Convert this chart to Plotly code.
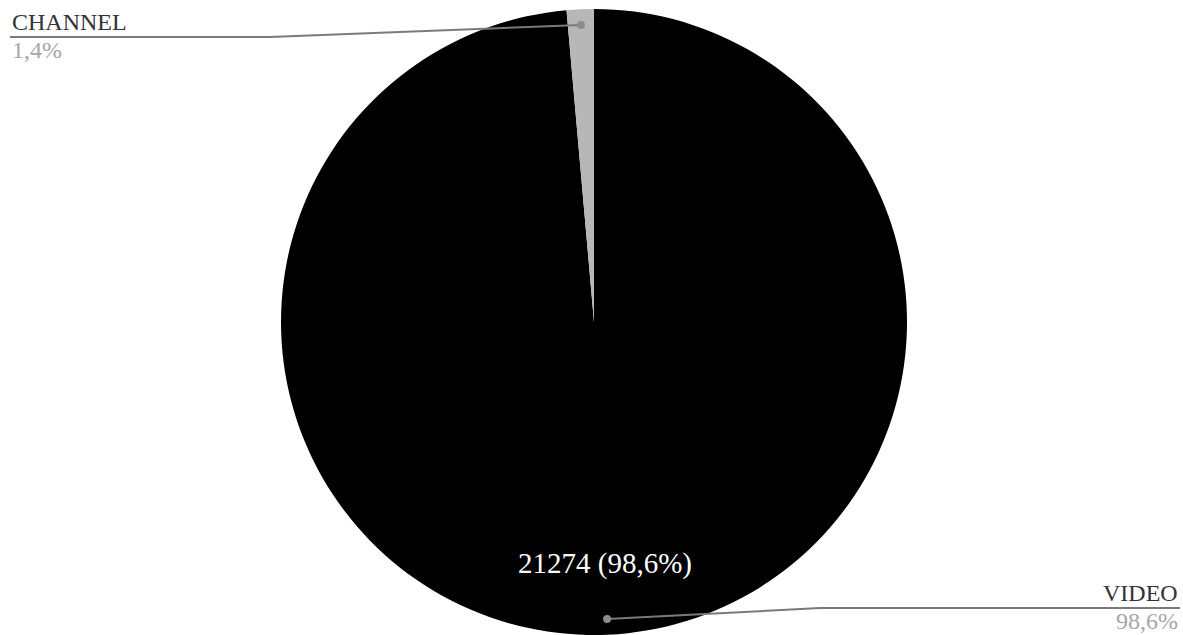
import math
import plotly.graph_objects as go

labels = ["VIDEO", "CHANNEL"]
values = [21274, 302]
colors = ["#000000", "#b7b7b7"]
pct_text = ["98,6%", "1,4%"]

W, H = 1183, 635
CX, CY, R = 594, 322, 313
FONT = "Liberation Serif, Times New Roman, serif"

fig = go.Figure(go.Pie(
    labels=labels, values=values, sort=False, direction="clockwise",
    rotation=0, marker=dict(colors=colors, line=dict(width=0)),
    textinfo="none", hoverinfo="label+value+percent", showlegend=False,
    domain=dict(x=[(2 * CX - W) / W, 1], y=[0, 1 - (CY - R) / H]),
))

def px(x):
    return x / W

def py(y):
    return 1 - y / H

total = sum(values)
shapes, annotations = [], []
cum = 0
# label placement: (elbow x, line y, end x, anchor)
layout_info = [(820, 608, 1180, "right"), (270, 37, 10, "left")]
for i, v in enumerate(values):
    mid = (cum + v / 2) / total * 2 * math.pi
    cum += v
    r = 0.95 * R
    dx = CX + r * math.sin(mid)
    dy = CY - r * math.cos(mid)
    ex, ly, endx, anchor = layout_info[i]
    line = dict(color="#7a7a7a", width=2)
    shapes.append(dict(type="line", xref="paper", yref="paper", x0=px(dx), y0=py(dy), x1=px(ex), y1=py(ly), line=line))
    shapes.append(dict(type="line", xref="paper", yref="paper", x0=px(ex), y0=py(ly), x1=px(endx), y1=py(ly), line=line))
    shapes.append(dict(type="circle", xref="paper", yref="paper", x0=px(dx - 4), x1=px(dx + 4), y0=py(dy - 4), y1=py(dy + 4),
                       fillcolor="#8c8c8c", line=dict(width=0)))
    annotations.append(dict(xref="paper", yref="paper", x=px(endx), y=py(ly), text=labels[i], showarrow=False,
                            xanchor=anchor, yanchor="bottom", font=dict(family=FONT, size=24, color="#333333")))
    annotations.append(dict(xref="paper", yref="paper", x=px(endx), y=py(ly - 2), text=pct_text[i], showarrow=False,
                            xanchor=anchor, yanchor="top", font=dict(family=FONT, size=24, color="#a6a6a6")))

annotations.append(dict(xref="paper", yref="paper", x=px(605), y=py(563), text=f"{values[0]} ({pct_text[0]})",
                        showarrow=False, xanchor="center", yanchor="middle",
                        font=dict(family=FONT, size=29, color="#ffffff")))

fig.update_layout(width=W, height=H, autosize=False, margin=dict(l=0, r=0, t=0, b=0), paper_bgcolor="white",
                  shapes=shapes, annotations=annotations)
fig.write_html("out.html", config={"displayModeBar": False},
               post_script="document.body.style.margin='0';document.body.style.overflow='hidden';")
